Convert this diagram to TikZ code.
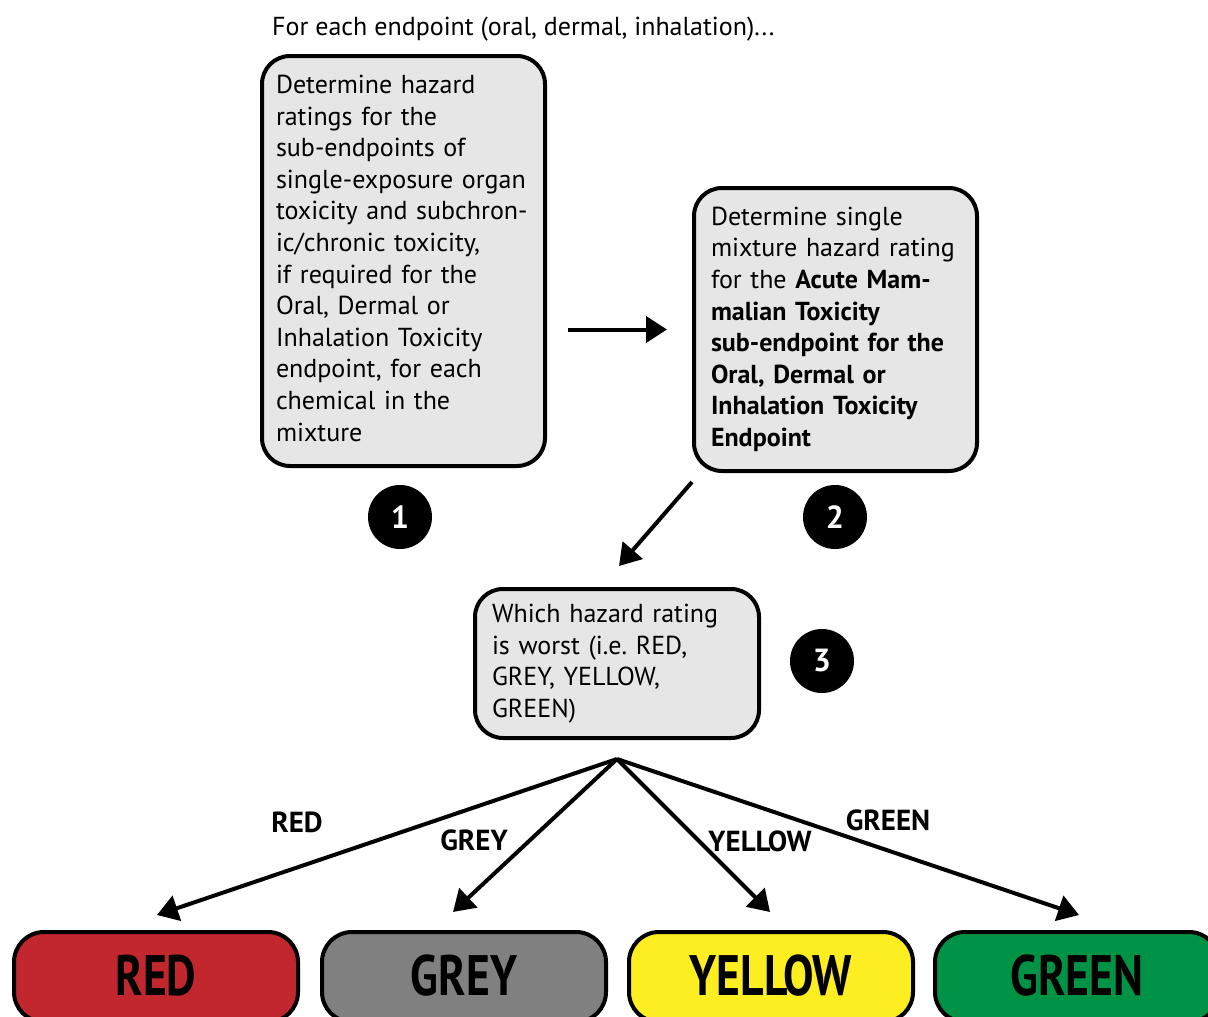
\documentclass[tikz,border=0pt]{standalone}
\usepackage{fontspec}
\setmainfont{PT Sans}
\usetikzlibrary{arrows.meta}
\definecolor{boxgrey}{HTML}{E6E6E6}
\definecolor{hzred}{HTML}{C1272D}
\definecolor{hzgrey}{HTML}{808080}
\definecolor{hzyellow}{HTML}{FCEE21}
\definecolor{hzgreen}{HTML}{009245}
\newcommand{\narrowlbl}[1]{\raisebox{3pt}{\scalebox{0.8}[1]{#1}}}
\begin{document}
\frenchspacing
\begin{tikzpicture}[x=1pt,y=-1pt,
  txt/.style={font=\fontsize{26}{31.6}\selectfont},
  stepbox/.style={draw=black, line width=4pt, fill=boxgrey, rounded corners=28pt,
    anchor=north west, align=left, inner ysep=0pt, txt},
  badge/.style={circle, fill=black, minimum size=64pt, inner sep=0pt,
    text=white, font=\fontsize{32}{36}\selectfont\bfseries},
  ratebox/.style={draw=black, line width=4pt, rounded corners=30pt,
    minimum width=284pt, minimum height=90pt, anchor=north west,
    font=\fontsize{57}{60}\selectfont\bfseries},
  lbl/.style={font=\fontsize{29}{32}\selectfont\bfseries},
  arr/.style={line width=4pt, -{Triangle[length=21pt,width=26pt]}},
]
\clip (0,0) rectangle (1208,1017);
\useasboundingbox (0,0) rectangle (1208,1017);

% heading
\node[txt, anchor=base west, inner sep=0pt] (head) at (272,35)
  {For each endpoint (oral, dermal, inhalation)...};

% step boxes
\node[stepbox, text width=255pt, inner xsep=14pt, minimum height=410pt] (b1) at (260,54)
  {\begin{tabular}{@{}l@{}}
   Determine hazard\\
   ratings for the\\
   sub-endpoints of\\
   single-exposure organ\\
   toxicity and subchron-\\
   ic/chronic toxicity,\\
   if required for the\\
   Oral, Dermal or\\
   Inhalation Toxicity\\
   endpoint, for each\\
   chemical in the\\
   mixture
   \end{tabular}};

\node[stepbox, text width=249pt, inner xsep=17pt, minimum height=283pt] (b2) at (692,186)
  {\begin{tabular}{@{}l@{}}
   Determine single\\
   mixture hazard rating\\
   for the \textbf{Acute Mam-}\\
   \textbf{malian Toxicity}\\
   \textbf{sub-endpoint for the}\\
   \textbf{Oral, Dermal or}\\
   \textbf{Inhalation Toxicity}\\
   \textbf{Endpoint}
   \end{tabular}};

\node[stepbox, text width=250pt, inner xsep=17pt, minimum height=149pt] (b3) at (473,587)
  {\begin{tabular}{@{}l@{}}
   Which hazard rating\\
   is worst (i.e. RED,\\
   GREY, YELLOW,\\
   GREEN)
   \end{tabular}};

% step numbers
\node[badge] (n1) at (400,517) {1};
\node[badge] (n2) at (835,517) {2};
\node[badge] (n3) at (822,661) {3};

% rating boxes
\node[ratebox, fill=hzred]    (red)    at (12,930)  {\narrowlbl{RED}};
\node[ratebox, fill=hzgrey]   (grey)   at (320,930) {\narrowlbl{GREY}};
\node[ratebox, fill=hzyellow] (yellow) at (627,930) {\narrowlbl{YELLOW}};
\node[ratebox, fill=hzgreen]  (green)  at (933,930) {\narrowlbl{GREEN}};

% connectors
\draw[arr, shorten <=21pt, shorten >=25pt] (b1.east |- b2.west) -- (b2.west);
\draw[arr] ([yshift=-9pt]b2.south west) -- ([xshift=2pt,yshift=21pt]b3.north);

\coordinate (apex) at ([yshift=-19pt]b3.south);
\draw[arr] (apex) -- ([xshift=1pt,yshift=15pt]red.north);
\draw[arr] (apex) -- ([xshift=-11pt,yshift=18pt]grey.north);
\draw[arr] (apex) -- ([xshift=-1pt,yshift=18pt]yellow.north);
\draw[arr] (apex) -- ([xshift=2pt,yshift=15pt]green.north);

% branch labels
\node[lbl] (lred)    at (297,822) {RED};
\node[lbl] (lgrey)   at (474,840) {GREY};
\node[lbl] (lyellow) at (760,841) {YELLOW};
\node[lbl] (lgreen)  at (888,820) {GREEN};
\end{tikzpicture}
\end{document}
